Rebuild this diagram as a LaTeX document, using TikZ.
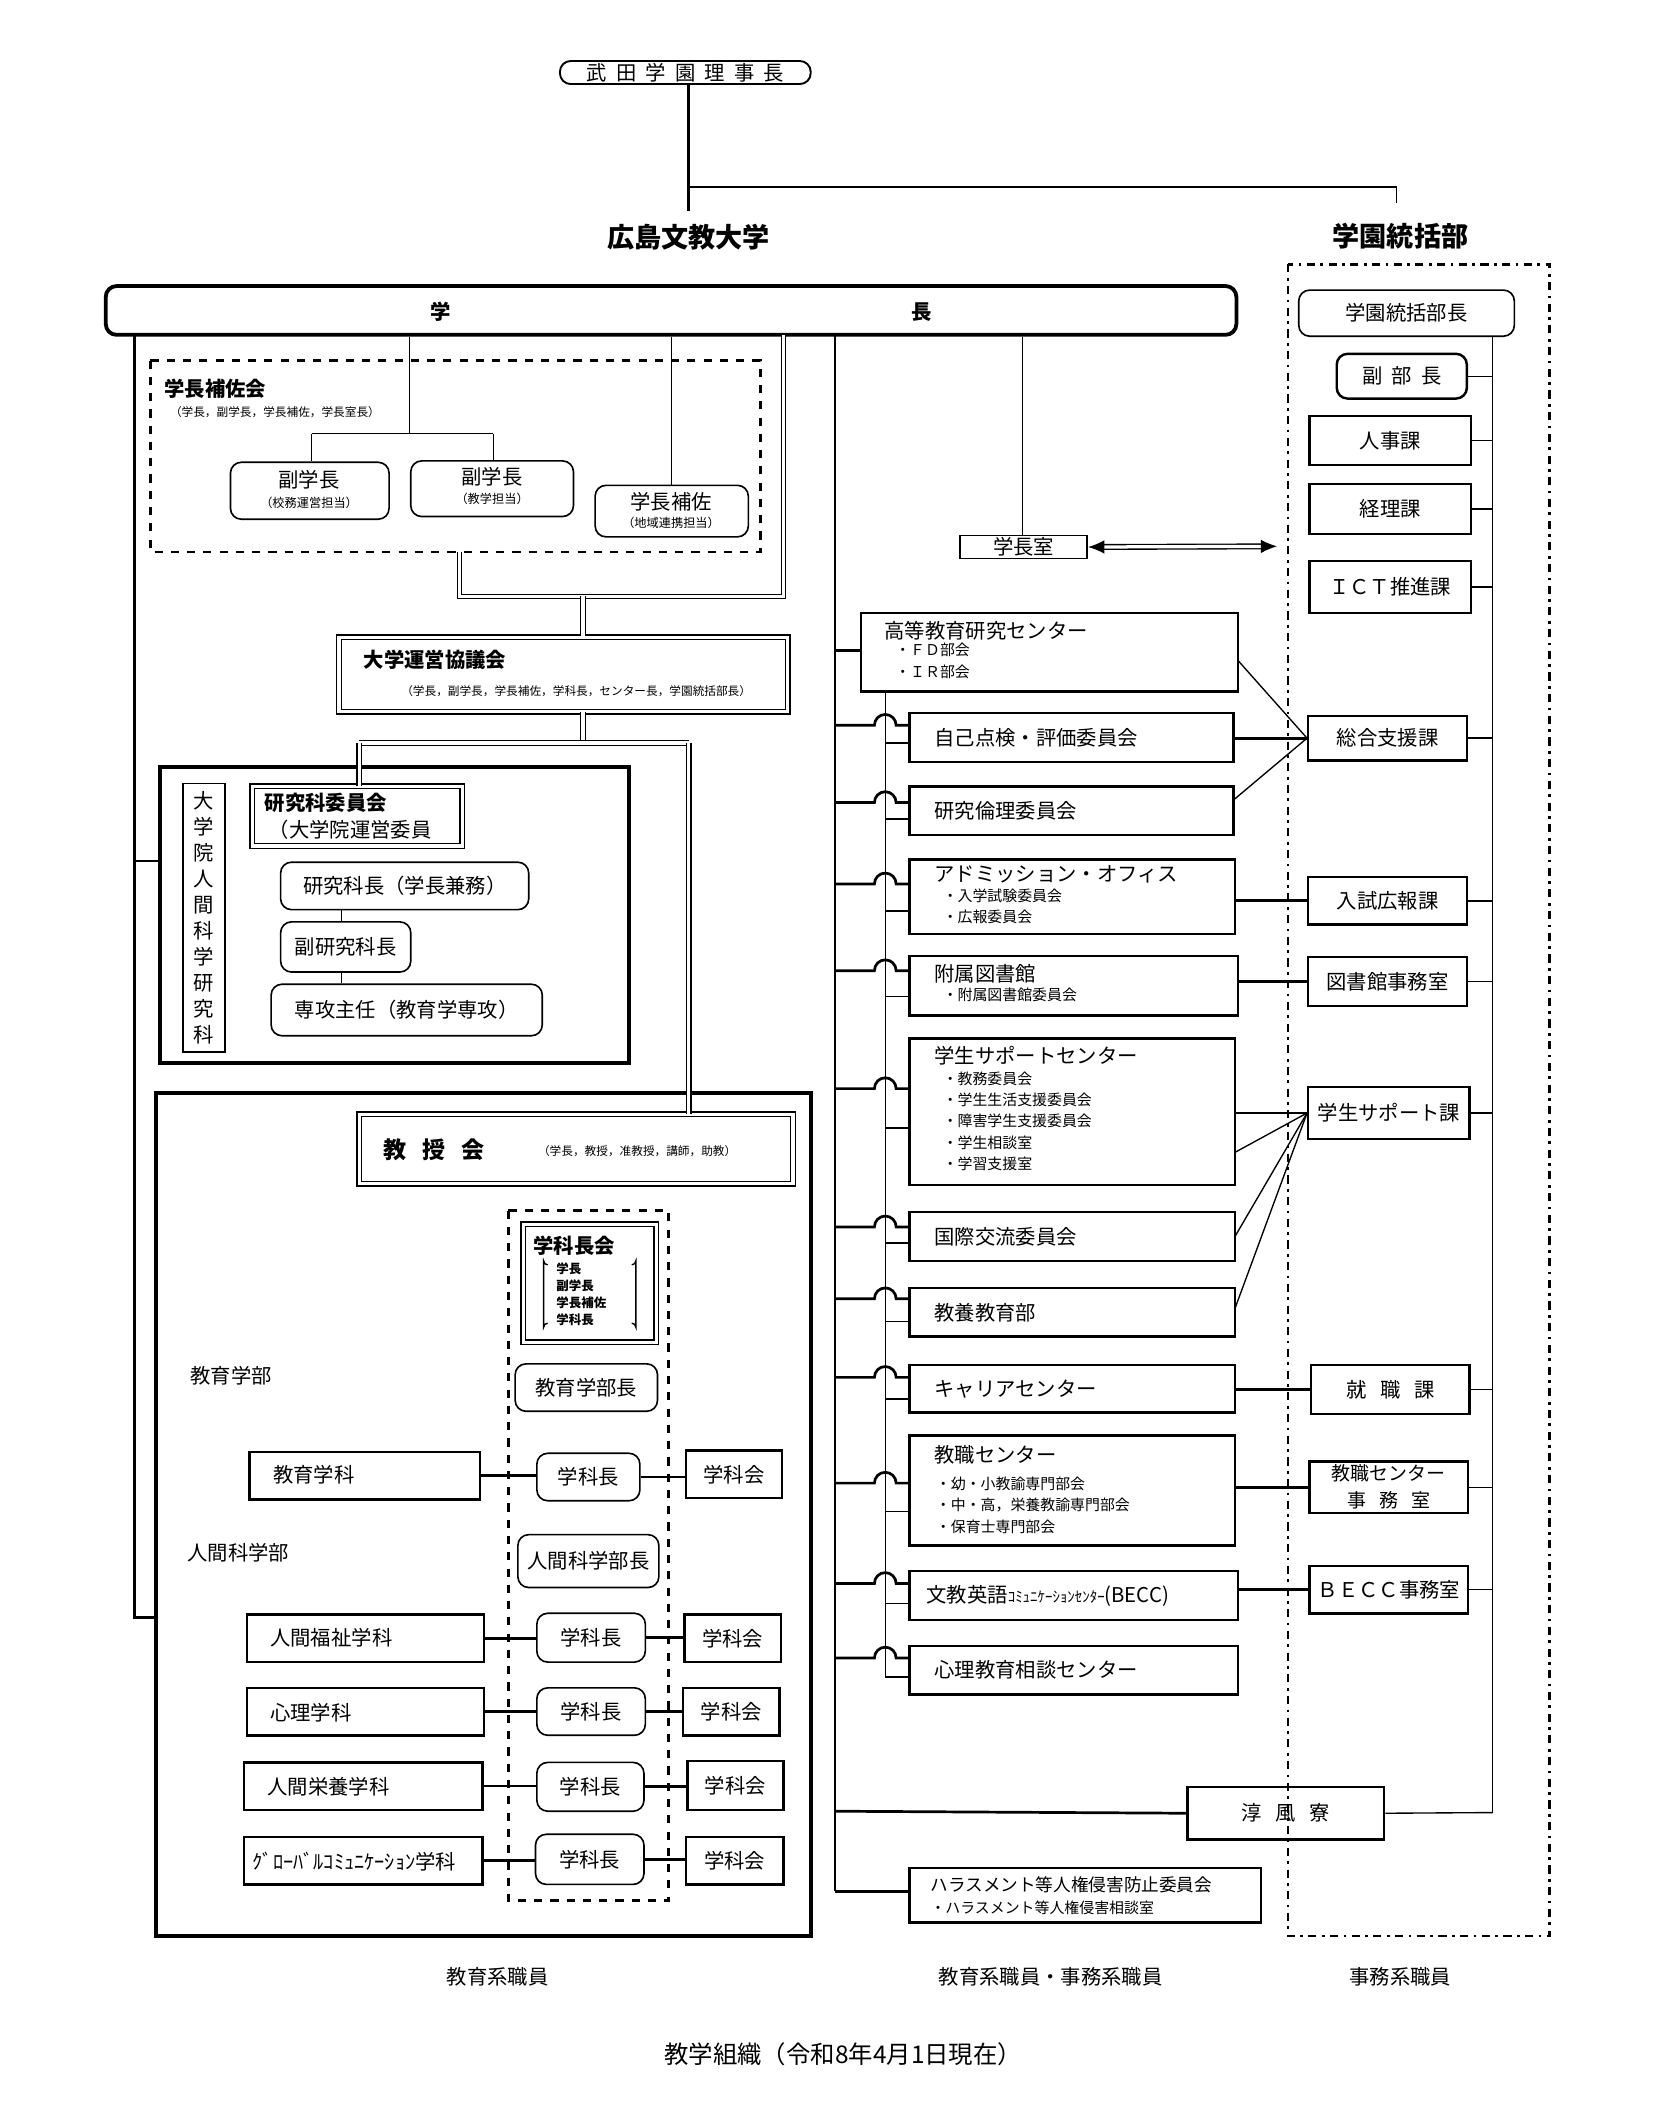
\documentclass[tikz,border=0pt]{standalone}
\usepackage{fontspec}
\setmainfont{Noto Sans CJK JP}
\usetikzlibrary{arrows.meta}
\begin{document}
\newcommand\Bx[7][]{\node[bx,#1,minimum width={(#5-#3)*0.5pt},minimum height={(#6-#4)*0.5pt}] (#2) at ({(#3+#5)/2},{(#4+#6)/2}) {#7};}
\newcommand\Hop[2]{\draw[conT] (616,#1) -- (645,#1) arc(180:360:8) -- (671,#1); \draw[conN] (653,#2) -- (671,#2);}
\begin{tikzpicture}[x=0.5pt,y=-0.5pt,
  bx/.style={draw,line width=0.9pt,inner sep=0pt,font=\fontsize{7.5}{9}\selectfont},
  rbx/.style={bx,rounded corners=4pt},
  dbl/.style={bx,double,double distance=1.2pt,line width=0.5pt},
  conT/.style={line width=1pt},
  conN/.style={line width=0.5pt},
  dblline/.style={double,double distance=1.2pt,line width=0.45pt},
  lbl/.style={inner sep=0pt,font=\fontsize{7.5}{9}\selectfont},
  sm/.style={inner sep=0pt,font=\fontsize{5.5}{7.9}\selectfont,align=left},
  tiny/.style={inner sep=0pt,font=\fontsize{4.3}{5.5}\selectfont,align=left},
  ttl/.style={inner sep=0pt,font=\fontsize{10}{12}\selectfont\bfseries},
  bt/.style={inner sep=0pt,font=\fontsize{7.5}{9}\selectfont\bfseries}]
\useasboundingbox (0,0) rectangle (1220,1566);
% top
\Bx[rbx,line width=0.7pt]{rij}{413}{45}{598}{62}{武\ \ 田\ \ 学\ \ 園\ \ 理\ \ 事\ \ 長}
\coordinate (t1) at (508,138); \coordinate (t2) at (508,156);
\coordinate (t3) at (1030,138); \coordinate (t4) at (1030,150);
\draw[conT] (rij.south -| t1) -- (t2);
\draw[conN] (t1) -- (t3) -- (t4);
\node[ttl] (univ) at (508,175) {広島文教大学};
\node[ttl] (gak) at (1033,174) {学園統括部};
% president bar
\Bx[rbx,line width=1.4pt]{bar}{78}{211}{912}{247}{}
\node[bt] (barA) at (325,230) {学};
\node[bt] (barB) at (680,230) {長};
% gakuen dashdot box
\draw[line width=1pt,dash dot] (950,195) rectangle (1143,1428);
\Bx[rbx,line width=0.6pt]{gbu}{958}{214}{1117}{248}{学園統括部長}
\Bx[rbx]{fku}{986}{261}{1082}{294}{副\ \ 部\ \ 長}
\Bx{jin}{966}{307}{1085}{343}{人事課}
\Bx{kei}{966}{357}{1085}{394}{経理課}
\Bx{ict}{966}{414}{1085}{452}{ＩＣＴ推進課}
\Bx{sog}{965}{528}{1082}{561}{総合支援課}
\Bx{nyu}{965}{647}{1082}{682}{入試広報課}
\Bx{tos}{965}{706}{1082}{742}{図書館事務室}
\Bx{gss}{965}{802}{1084}{840}{学生サポート課}
\Bx{shu}{967}{1007}{1084}{1043}{就\ \ \ 職\ \ \ 課}
\Bx[align=center,font=\fontsize{7}{10}\selectfont]{kjs}{966}{1078}{1083}{1116}{教職センター\\事\ \ \ 務\ \ \ 室}
\Bx{bcs}{966}{1155}{1083}{1190}{ＢＥＣＣ事務室}
\Bx{jun}{876}{1318}{1021}{1357}{淳\ \ \ 風\ \ \ 寮}
\coordinate (gv) at (1101,248);
\coordinate (gvb) at (1101,1337);
\draw[conN] (gv) -- (gvb);
\foreach \n in {fku,jin,kei,ict,sog,nyu,tos,gss,shu,kjs,bcs}{\draw[conN] (\n.east) -- (\n.east -| gv);}
\draw[conN] (jun.east) -- (gvb);
% 学長補佐会
\draw[line width=0.9pt,dashed] (111,266) rectangle (561,407);
\node[bt,anchor=west] (hsk) at (121,287) {学長補佐会};
\node[tiny,anchor=west] (hsks) at (125,304) {（学長，副学長，学長補佐，学長室長）};
\Bx[rbx,line width=0.6pt]{fg1}{170}{341}{287}{383}{}
\node[lbl] (fg1a) at (228,354) {副学長};
\node[tiny,font=\fontsize{4.5}{6}\selectfont] (fg1b) at (228,371) {（校務運営担当）};
\Bx[rbx,line width=0.6pt]{fg2}{303}{340}{423}{381}{}
\node[lbl] (fg2a) at (363,352) {副学長};
\node[tiny,font=\fontsize{4.5}{6}\selectfont] (fg2b) at (363,368) {（教学担当）};
\Bx[rbx,line width=0.6pt]{gh}{439}{358}{552}{396}{}
\node[lbl] (gha) at (495,370) {学長補佐};
\node[tiny,font=\fontsize{4.5}{6}\selectfont] (ghb) at (495,386) {（地域連携担当）};
\coordinate (h1) at (302,320); \coordinate (h2) at (230,320); \coordinate (h3) at (364,320);
\draw[conN] (bar.south -| h1) -- (h1);
\draw[conN] (h2) -- (h3);
\draw[conN] (h2) -- (fg1.north -| h2);
\draw[conN] (h3) -- (fg2.north -| h3);
\draw[conN] (bar.south -| gh.north) -- (gh.north);
% double lines to 大学運営協議会
\coordinate (d1) at (339,407); \coordinate (d2) at (339,440); \coordinate (d3) at (578,440);
\coordinate (d4) at (578,247); \coordinate (d5) at (430,440);
\draw[dblline] (d1) -- (d2) -- (d3) -- (d4);
\Bx[dbl]{kyo}{250}{470}{581}{525}{}
\node[bt,anchor=west] (kyot) at (268,487) {大学運営協議会};
\node[tiny] (kyos) at (425,510) {（学長，副学長，学長補佐，学科長，センター長，学園統括部長）};
\draw[dblline] (d5) -- (kyo.north -| d5);
\coordinate (e1) at (430,548); \coordinate (e2) at (265,548); \coordinate (e3) at (508,548);
\draw[dblline] (kyo.south -| e1) -- (e1);
\draw[dblline] (e2) -- (e3);
% 研究科
\Bx[line width=1.4pt]{ken}{118}{566}{464}{784}{}
\Bx[line width=0.6pt,align=center,font=\fontsize{7.5}{9.6}\selectfont]{kenv}{135}{578}{166}{776}{大\\学\\院\\人\\間\\科\\学\\研\\究\\科}
\Bx[dbl]{kiin}{186}{580}{341}{624}{}
\node[bt,anchor=west] (kiint) at (195,592) {研究科委員会};
\node[lbl,anchor=west] (kiins) at (198,612) {（大学院運営委員};
\draw[dblline] (e2) -- (kiin.north -| e2);
\Bx[rbx,line width=0.6pt]{kch}{207}{636}{390}{671}{研究科長（学長兼務）}
\Bx[rbx,line width=0.6pt]{fkch}{207}{680}{303}{717}{副研究科長}
\Bx[rbx,line width=0.6pt]{sen}{200}{726}{400}{764}{専攻主任（教育学専攻）}
\coordinate (kx) at (252,0);
\draw[conN] (kch.south -| kx) -- (fkch.north -| kx);
\draw[conN] (fkch.south -| kx) -- (sen.north -| kx);
% left line
\coordinate (L1) at (99,247); \coordinate (L2) at (99,1193); \coordinate (L3) at (99,635);
\draw[conT] (L1) -- (L2) -- (115,1193);
\draw[conT] (L3) -- (ken.west |- L3);
% 教育系 big box
\Bx[line width=1.4pt]{big}{115}{806}{598}{1428}{}
\Bx[dbl]{kjk}{265}{822}{585}{873}{}
\node[inner sep=0pt,font=\fontsize{8.5}{10}\selectfont\bfseries] (kjkt) at (320,848) {教\ \ \ 授\ \ \ 会};
\node[tiny] (kjks) at (470,849) {（学長，教授，准教授，講師，助教）};
\draw[dblline] (e3) -- (kjk.north -| e3);
\draw[line width=0.9pt,dashed] (375,893) rectangle (493,1402);
\Bx[dbl]{gkc}{386}{903}{484}{990}{}
\node[bt,anchor=west] (gkct) at (393,919) {学科長会};
\node[tiny,anchor=north west,font=\fontsize{4.6}{6.3}\selectfont\bfseries] (gkcs) at (410,931) {学長\\副学長\\学長補佐\\学科長};
\draw[conN] (404,933) arc(90:180:3) -- (401,979) arc(180:270:3);
\draw[conN] (466,933) arc(90:0:3) -- (469,979) arc(0:-90:3);
\node[lbl,anchor=west] (kgb) at (140,1015) {教育学部};
\Bx[rbx,line width=0.6pt]{kgbc}{380}{1006}{485}{1041}{教育学部長}
\node[lbl,anchor=west] (ngb) at (138,1145) {人間科学部};
\Bx[rbx,line width=0.6pt]{ngbc}{382}{1132}{486}{1171}{人間科学部長}
% department rows
\Bx{dp1}{184}{1071}{354}{1106}{}
\node[lbl,anchor=west] (dp1t) at (201,1088) {教育学科};
\Bx[rbx,line width=0.6pt]{gc1}{396}{1072}{472}{1107}{学科長}
\Bx{gk1}{506}{1070}{577}{1105}{学科会}
\Bx{dp2}{182}{1191}{357}{1226}{}
\node[lbl,anchor=west] (dp2t) at (199,1208) {人間福祉学科};
\Bx[rbx,line width=0.6pt]{gc2}{396}{1190}{476}{1226}{学科長}
\Bx{gk2}{505}{1191}{576}{1226}{学科会}
\Bx{dp3}{182}{1245}{357}{1280}{}
\node[lbl,anchor=west] (dp3t) at (199,1263) {心理学科};
\Bx[rbx,line width=0.6pt]{gc3}{396}{1245}{476}{1280}{学科長}
\Bx{gk3}{504}{1245}{575}{1280}{学科会}
\Bx{dp4}{180}{1300}{356}{1335}{}
\node[lbl,anchor=west] (dp4t) at (197,1318) {人間栄養学科};
\Bx[rbx,line width=0.6pt]{gc4}{396}{1300}{475}{1336}{学科長}
\Bx{gk4}{507}{1299}{578}{1335}{学科会}
\Bx{dp5}{180}{1355}{356}{1390}{}
\node[lbl,anchor=west] (dp5t) at (186,1373) {ｸﾞﾛｰﾊﾞﾙｺﾐｭﾆｹｰｼｮﾝ学科};
\Bx[rbx,line width=0.6pt]{gc5}{395}{1353}{475}{1390}{学科長}
\Bx{gk5}{506}{1355}{578}{1390}{学科会}
\foreach \i in {1,...,5}{\draw[conT] (dp\i.east) -- (gc\i.west |- dp\i.east); \draw[conT] (gc\i.east) -- (gk\i.west |- gc\i.east);}
% middle column
\coordinate (M1) at (616,247); \coordinate (M2) at (616,1395);
\draw[conT] (M1) -- (M2);
\coordinate (S1) at (653,510); \coordinate (S2) at (653,1237);
\draw[conN] (S1) -- (S2);
\coordinate (gsx) at (754,0);
\Bx[line width=0.6pt]{gsh}{708}{395}{802}{412}{学長室}
\draw[conN] (bar.south -| gsx) -- (gsh.north -| gsx);
\coordinate (arE) at (942,403);
\draw[double,double distance=1.2pt,line width=0.5pt,{Latex[length=6pt,width=5pt]}-{Latex[length=6pt,width=5pt]}] (gsh.east) -- (arE);
\Bx{c1}{635}{452}{913}{510}{}
\node[lbl,anchor=west] (c1t) at (652,465) {高等教育研究センター};
\node[sm,anchor=north west] (c1s) at (660,474) {・ＦＤ部会\\・ＩＲ部会};
\draw[conT] (616,480) -- (c1.west |- 0,480);
\Bx{c2}{671}{526}{910}{562}{}
\node[lbl,anchor=west] (c2t) at (689,544) {自己点検・評価委員会};
\Bx{c3}{671}{580}{910}{616}{}
\node[lbl,anchor=west] (c3t) at (689,598) {研究倫理委員会};
\Bx{c4}{671}{634}{911}{689}{}
\node[lbl,anchor=west] (c4t) at (689,645) {アドミッション・オフィス};
\node[sm,anchor=north west] (c4s) at (695,655) {・入学試験委員会\\・広報委員会};
\Bx{c5}{671}{705}{913}{749}{}
\node[lbl,anchor=west] (c5t) at (689,718) {附属図書館};
\node[sm,anchor=north west] (c5s) at (695,728) {・附属図書館委員会};
\Bx{c6}{671}{766}{911}{874}{}
\node[lbl,anchor=west] (c6t) at (689,779) {学生サポートセンター};
\node[sm,anchor=north west] (c6s) at (695,790) {・教務委員会\\・学生生活支援委員会\\・障害学生支援委員会\\・学生相談室\\・学習支援室};
\Bx{c7}{671}{894}{911}{930}{}
\node[lbl,anchor=west] (c7t) at (689,912) {国際交流委員会};
\Bx{c8}{671}{950}{911}{986}{}
\node[lbl,anchor=west] (c8t) at (689,968) {教養教育部};
\Bx{c9}{671}{1007}{911}{1042}{}
\node[lbl,anchor=west] (c9t) at (689,1025) {キャリアセンター};
\Bx{c10}{671}{1059}{911}{1140}{}
\node[lbl,anchor=west] (c10t) at (689,1073) {教職センター};
\node[sm,anchor=north west] (c10s) at (690,1089) {・幼・小教諭専門部会\\・中・高，栄養教諭専門部会\\・保育士専門部会};
\Bx{c11}{671}{1159}{913}{1195}{}
\node[lbl,anchor=west] (c11t) at (683,1177) {文教英語{\fontsize{5.5}{7}\selectfont ｺﾐｭﾆｹｰｼｮﾝｾﾝﾀｰ}(BECC)};
\Bx{c12}{671}{1214}{913}{1250}{}
\node[lbl,anchor=west] (c12t) at (689,1232) {心理教育相談センター};
\Bx{c13}{671}{1378}{930}{1418}{}
\node[inner sep=0pt,anchor=west,font=\fontsize{6.5}{8}\selectfont] (c13t) at (686,1390) {ハラスメント等人権侵害防止委員会};
\node[sm,anchor=west] (c13s) at (686,1407) {・ハラスメント等人権侵害相談室};
\Hop{535}{548}
\Hop{592}{604}
\Hop{652}{672}
\Hop{716}{735}
\Hop{803}{832}
\Hop{905}{917}
\Hop{958}{975}
\Hop{1016}{1032}
\Hop{1094}{1115}
\Hop{1168}{1183}
\Hop{1223}{1237}
\draw[conT] (M2) -- (c13.west |- M2);
\draw[conT] (616,1336) -- (jun.west);
% right connections
\draw[conN] (913,487) -- (sog.west);
\draw[conT] (c2.east |- sog.west) -- (sog.west);
\draw[conN] (910,590) -- (sog.west);
\draw[conT] (c4.east |- nyu.west) -- (nyu.west);
\draw[conT] (c5.east |- tos.west) -- (tos.west);
\draw[conT] (c6.east |- gss.west) -- (gss.west);
\draw[conN] (911,850) -- (gss.west);
\draw[conN] (911,912) -- (gss.west);
\draw[conN] (911,965) -- (gss.west);
\draw[conT] (c9.east |- shu.west) -- (shu.west);
\draw[conT] (c10.east |- kjs.west) -- (kjs.west);
\draw[conT] (c11.east |- bcs.west) -- (bcs.west);
% bottom labels
\node[lbl] (b1) at (367,1458) {教育系職員};
\node[lbl] (b2) at (775,1458) {教育系職員・事務系職員};
\node[lbl] (b3) at (1033,1458) {事務系職員};
\node[lbl,font=\fontsize{9}{11}\selectfont] (cap) at (622,1515) {教学組織（令和8年4月1日現在）};
\end{tikzpicture}
\end{document}
